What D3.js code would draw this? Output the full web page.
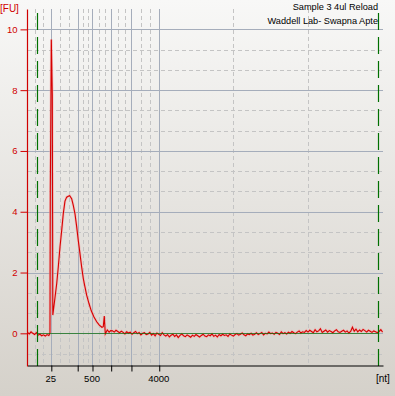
<!DOCTYPE html>
<html>
<head>
<meta charset="utf-8">
<script src="https://cdn.jsdelivr.net/npm/d3@7"></script>
<style>
body { margin: 0; background: #e4e2de; }
text { font-family: "Liberation Sans", Arial, sans-serif; }
</style>
</head>
<body>
<svg id="chart" width="395" height="396"></svg>
<script>
// RNA ladder: size (nt) and migration time (s) of each band
var ladderNt = [25, 200, 500, 1000, 2000, 4000];
var ladderTime = [22.35, 26.06, 28.14, 30.77, 33.62, 37.53];
var labelledNt = [25, 500, 4000];
// dashed gridlines between ladder bands
var minorTime = [20.12, 21.23, 23.59, 24.82, 26.75, 27.45, 29.02, 29.90,
                 31.72, 32.67, 34.92, 36.23, 47.97, 58.41];

var fuMajor = [0, 2, 4, 6, 8, 10];
var fuMinor = [-0.667, 0.667, 1.333, 2.667, 3.333, 4.667, 5.333,
               6.667, 7.333, 8.667, 9.333];

// lower / upper marker
var markerTime = [20.38, 68.24];

var titleLines = ["Sample 3 4ul Reload", "Waddell Lab- Swapna Apte"];

// trace before the marker peak (sampled every 0.25 s from 19 s)
var leftStart = 19.0, leftStep = 0.25;
var leftFU = [0.03, -0.02, 0.05, 0.00, -0.04, 0.02, -0.06, -0.03, -0.08,
              -0.05, -0.09, -0.04, -0.07];

// marker spike and the broad RNA peak
var peakTime = [22.10, 22.16, 22.21, 22.35, 22.49, 22.56, 22.82, 23.11, 23.33,
                23.57, 23.81, 24.03, 24.27, 24.51, 24.74, 24.93, 25.21, 25.44,
                25.68, 25.92, 26.14, 26.38, 26.62, 26.85, 27.08, 27.32, 27.65,
                27.97, 28.35, 28.73, 29.10, 29.47, 29.66, 29.80, 29.94, 30.22,
                30.48, 30.70];
var peakFU = [-0.03, 0.02, 4.75, 9.67, 7.84, 0.60, 1.09, 1.64, 2.18,
              2.84, 3.39, 3.93, 4.35, 4.48, 4.51, 4.53, 4.43, 4.21,
              3.93, 3.50, 3.06, 2.62, 2.18, 1.80, 1.53, 1.26, 0.98,
              0.74, 0.54, 0.38, 0.27, 0.20, 0.22, 0.57, -0.02, 0.11,
              0.04, 0.09];

// flat tail (sampled every 0.25 s)
var tailStart = 30.95, tailStep = 0.25;
var tailFU = [
  0.08, 0.04, 0.10, 0.06, 0.02, 0.07, 0.03, -0.02, 0.05, 0.01,
  0.04, -0.03, 0.02, 0.06, -0.01, 0.03, -0.05, 0.00, 0.02, -0.04,
  -0.02, 0.03, -0.06, -0.01, -0.08, 0.01, -0.03, -0.07, 0.02, -0.05,
  -0.09, -0.04, -0.12, -0.06, -0.03, -0.10, -0.05, -0.14, -0.07, -0.02,
  -0.08, -0.11, -0.05, -0.09, -0.13, -0.06, -0.10, -0.04, -0.08, -0.12,
  -0.07, -0.03, -0.09, -0.11, -0.05, -0.08, -0.02, -0.10, -0.06, -0.12,
  -0.04, -0.08, -0.03, -0.07, -0.05, -0.10, -0.02, -0.06, -0.09, -0.04,
  -0.01, -0.06, -0.03, 0.01, -0.05, -0.08, -0.02, -0.04, 0.00, -0.06,
  -0.03, 0.02, -0.04, -0.01, 0.03, -0.05, 0.00, -0.02, 0.04, -0.01,
  0.01, -0.03, 0.03, 0.00, -0.04, 0.05, -0.01, 0.02, -0.02, 0.04,
  0.00, 0.06, 0.02, -0.01, 0.04, 0.08, 0.01, 0.05, 0.03, 0.09,
  0.04, 0.10, 0.06, 0.02, 0.12, 0.05, 0.08, 0.15, 0.03, 0.07,
  0.11, 0.04, 0.09, 0.06, 0.02, 0.08, 0.12, 0.05, 0.03, 0.07,
  0.10, 0.04, 0.08, 0.01, 0.06, 0.20, 0.07, 0.14, 0.05, 0.11,
  0.06, 0.13, 0.09, 0.04, 0.10, 0.07, 0.03, 0.08, 0.05, 0.02,
  0.06, 0.12, 0.04
];

var width = 395, height = 396;
var plotLeft = 27.5, plotRight = 383, plotTop = 9, plotBottom = 366;

var svg = d3.select("#chart");

var x = d3.scaleLinear().domain([19, 69]).range([plotLeft, plotRight]);
var y = d3.scaleLinear().domain([-1.075, 10.67]).range([plotBottom, plotTop]);

// background gradient
var defs = svg.append("defs");
var grad = defs.append("linearGradient")
    .attr("id", "bg").attr("x1", 0).attr("y1", 0).attr("x2", 0).attr("y2", 1);
grad.append("stop").attr("offset", "0%").attr("stop-color", "#f8f8f7");
grad.append("stop").attr("offset", "100%").attr("stop-color", "#d5d1ca");
defs.append("clipPath").attr("id", "plot")
  .append("rect")
    .attr("x", plotLeft).attr("y", plotTop)
    .attr("width", plotRight - plotLeft).attr("height", plotBottom - plotTop);

svg.append("rect")
    .attr("width", width).attr("height", height)
    .attr("fill", "url(#bg)");

function px(v) { return Math.round(v) + 0.5; }

// gridlines
var grid = svg.append("g").attr("shape-rendering", "crispEdges");
grid.selectAll(".vmin").data(minorTime).join("line")
    .attr("x1", function(d){ return px(x(d)); })
    .attr("x2", function(d){ return px(x(d)); })
    .attr("y1", plotTop).attr("y2", plotBottom)
    .attr("stroke", "#c4c4c4").attr("stroke-dasharray", "4,3");
grid.selectAll(".hmin").data(fuMinor).join("line")
    .attr("x1", plotLeft).attr("x2", plotRight)
    .attr("y1", function(d){ return px(y(d)); })
    .attr("y2", function(d){ return px(y(d)); })
    .attr("stroke", "#c4c4c4").attr("stroke-dasharray", "4,3");
grid.selectAll(".hmaj").data(fuMajor).join("line")
    .attr("x1", plotLeft).attr("x2", plotRight)
    .attr("y1", function(d){ return px(y(d)); })
    .attr("y2", function(d){ return px(y(d)); })
    .attr("stroke", "#a5adbb");
grid.selectAll(".vmaj").data(ladderTime).join("line")
    .attr("x1", function(d){ return px(x(d)); })
    .attr("x2", function(d){ return px(x(d)); })
    .attr("y1", plotTop).attr("y2", plotBottom)
    .attr("stroke", "#a5adbb");

// trace
var trace = leftFU.map(function(v, i){ return { t: leftStart + i * leftStep, v: v }; })
  .concat(peakTime.map(function(t, i){ return { t: t, v: peakFU[i] }; }))
  .concat(tailFU.map(function(v, i){ return { t: tailStart + i * tailStep, v: v }; }));

var line = d3.line()
    .x(function(d){ return x(d.t); })
    .y(function(d){ return y(d.v); });

var plot = svg.append("g").attr("clip-path", "url(#plot)");
plot.append("path").datum(trace)
    .attr("d", line).attr("fill", "none")
    .attr("stroke", "#f4a8a8").attr("stroke-width", 2.6).attr("stroke-opacity", 0.6);
plot.append("path").datum(trace)
    .attr("d", line).attr("fill", "none")
    .attr("stroke", "#d60000").attr("stroke-width", 1.1);

// baseline between the markers
plot.append("line")
    .attr("x1", x(markerTime[0])).attr("x2", x(markerTime[1]))
    .attr("y1", px(y(0))).attr("y2", px(y(0)))
    .attr("stroke", "#0c700c").attr("stroke-opacity", 0.7)
    .attr("shape-rendering", "crispEdges");

// markers
plot.selectAll(".marker").data(markerTime).join("line")
    .attr("x1", function(d){ return px(x(d)); })
    .attr("x2", function(d){ return px(x(d)); })
    .attr("y1", 13).attr("y2", plotBottom)
    .attr("stroke", "#006f00").attr("stroke-width", 1.2)
    .attr("stroke-dasharray", "17,7");

// y axis
var yAxis = svg.append("g")
    .attr("transform", "translate(" + (plotLeft - 0.5) + ",0)")
    .call(d3.axisLeft(y).tickValues(fuMajor).tickSize(6.5).tickSizeOuter(0).tickPadding(3));
yAxis.select(".domain").attr("stroke", "#d00000").attr("stroke-width", 1.2);
yAxis.selectAll(".tick line").attr("stroke", "#d00000");
yAxis.selectAll(".tick text").attr("fill", "#d00000")
    .style("font-size", "9.5px").style("font-family", "Liberation Sans, Arial, sans-serif");

// x axis
var xAxis = svg.append("g")
    .attr("transform", "translate(0," + (plotBottom - 0.5) + ")")
    .call(d3.axisBottom(x).tickValues(ladderTime).tickSize(6).tickSizeOuter(0).tickPadding(4)
      .tickFormat(function(d, i){
          return labelledNt.indexOf(ladderNt[i]) >= 0 ? ladderNt[i] : "";
      }));
xAxis.select(".domain").attr("stroke", "#000");
xAxis.selectAll(".tick line").attr("stroke", "#000");
xAxis.selectAll(".tick text").attr("fill", "#000").attr("dx", "-0.1em")
    .style("font-size", "9.5px").style("font-family", "Liberation Sans, Arial, sans-serif");

// unit labels
svg.append("text")
    .attr("x", 0).attr("y", 11.5)
    .attr("font-size", "10px").attr("fill", "#d00000")
    .text("[FU]");
svg.append("text")
    .attr("x", 376).attr("y", 382)
    .attr("font-size", "10px").attr("fill", "#000")
    .text("[nt]");

// sample title
svg.selectAll(".title").data(titleLines).join("text")
    .attr("x", 378)
    .attr("y", function(d, i){ return 9.5 + i * 14.5; })
    .attr("text-anchor", "end")
    .attr("font-size", "9.2px")
    .attr("fill", "#000")
    .text(function(d){ return d; });
</script>
</body>
</html>
